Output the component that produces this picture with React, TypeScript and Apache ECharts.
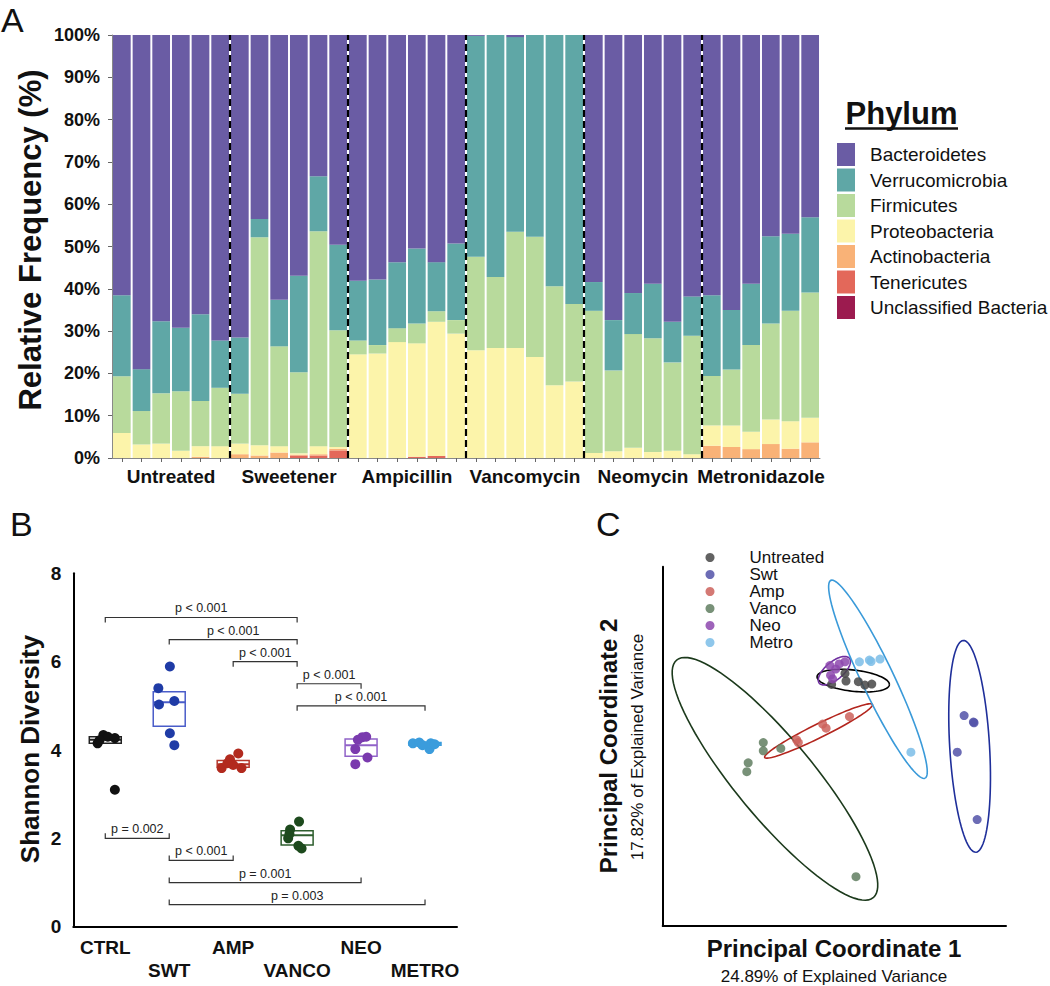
import React, { useEffect, useRef } from 'react';
import * as echarts from 'echarts';

const FONT = "'Liberation Sans', Arial, Helvetica, sans-serif";

// ---------------- Panel A: relative frequency ----------------
const groupsA = ['Untreated', 'Sweetener', 'Ampicillin', 'Vancomycin', 'Neomycin', 'Metronidazole'];
const samplesPerGroup = [6, 6, 6, 6, 6, 6];
const phyla = ['Bacteroidetes', 'Verrucomicrobia', 'Firmicutes', 'Proteobacteria', 'Actinobacteria', 'Tenericutes', 'Unclassified Bacteria'];
const phylaColors = ['#6A5CA4', '#5FA7A6', '#B8DA9C', '#FCF4AA', '#F9B277', '#E3685A', '#9C1B4F'];

const bacteroidetes = [61.5, 79.0, 67.7, 69.2, 66.0, 72.2, 71.5, 43.5, 62.6, 56.9, 33.4, 49.6, 58.1, 57.8, 53.7, 50.5, 53.7, 49.3, 0.2, 0, 0.5, 0, 0, 0, 58.4, 67.4, 61.0, 58.8, 67.8, 61.8, 61.5, 65.0, 58.8, 47.6, 47.0, 43.1];
const verrucomicrobia = [19.2, 9.9, 17.0, 15.0, 20.5, 11.2, 13.3, 4.3, 11.0, 22.8, 13.0, 20.2, 14.1, 15.5, 15.6, 17.7, 11.6, 18.1, 52.2, 57.2, 46.0, 47.7, 59.4, 63.6, 6.8, 11.9, 9.7, 12.9, 9.6, 9.3, 19.1, 14.1, 14.5, 20.6, 18.2, 17.8];
const firmicutes = [13.4, 7.9, 11.9, 14.1, 10.7, 13.8, 11.8, 49.2, 23.6, 19.2, 50.8, 27.6, 3.3, 2.0, 3.3, 4.7, 2.5, 3.2, 22.1, 16.8, 27.5, 28.4, 23.4, 18.3, 33.6, 19.1, 26.9, 26.9, 20.9, 28.0, 11.7, 13.2, 20.5, 22.7, 26.1, 29.6];
const proteobacteria = [5.9, 3.2, 3.4, 1.7, 2.5, 2.8, 2.5, 2.4, 1.5, 0.3, 1.9, 0.4, 24.5, 24.7, 27.4, 26.8, 31.7, 29.4, 25.5, 26.0, 26.0, 23.9, 17.2, 18.1, 1.2, 1.6, 2.4, 1.4, 1.7, 0.9, 4.8, 5.1, 4.1, 5.8, 6.5, 5.8];
const actinobacteria = [0, 0, 0, 0, 0.3, 0, 0.9, 0.6, 1.3, 0.2, 0.3, 0.4, 0, 0, 0, 0, 0, 0, 0, 0, 0, 0, 0, 0, 0, 0, 0, 0, 0, 0, 2.9, 2.6, 2.1, 3.3, 2.2, 3.7];
const tenericutes = [0, 0, 0, 0, 0, 0, 0, 0, 0, 0.6, 0.6, 1.8, 0, 0, 0, 0.3, 0.5, 0, 0, 0, 0, 0, 0, 0, 0, 0, 0, 0, 0, 0, 0, 0, 0, 0, 0, 0];
const unclassified = [0, 0, 0, 0, 0, 0, 0, 0, 0, 0, 0, 0, 0, 0, 0, 0, 0, 0, 0, 0, 0, 0, 0, 0, 0, 0, 0, 0, 0, 0, 0, 0, 0, 0, 0, 0];
const phylaValues = [bacteroidetes, verrucomicrobia, firmicutes, proteobacteria, actinobacteria, tenericutes, unclassified];
const percentTicks = [0, 10, 20, 30, 40, 50, 60, 70, 80, 90, 100];

// ---------------- Panel B: Shannon diversity ----------------
const groupsB = ['CTRL', 'SWT', 'AMP', 'VANCO', 'NEO', 'METRO'];
const colorsB = ['#111111', '#1F3BA6', '#B22A1E', '#1D4A1D', '#7A3AAE', '#3B9CDC'];
const boxColorsB = ['#222222', '#4A5DC9', '#B53A2E', '#2E5E2E', '#9062C8', '#3B9CDC'];
const shannonCTRL = [4.15, 4.34, 4.30, 4.27, 4.22, 3.10];
const shannonSWT = [5.89, 5.40, 5.03, 5.11, 4.38, 4.11];
const shannonAMP = [3.59, 3.79, 3.92, 3.66, 3.59, 3.70];
const shannonVANCO = [2.38, 2.20, 2.00, 2.10, 1.83, 1.77];
const shannonNEO = [4.29, 4.30, 4.02, 3.83, 3.68, 4.23];
const shannonMETRO = [4.15, 4.17, 4.02, 4.15, 4.11, 4.13];
const shannonValues = [shannonCTRL, shannonSWT, shannonAMP, shannonVANCO, shannonNEO, shannonMETRO];
const jitterB = [
  [-0.12, -0.03, 0.04, 0.15, -0.09, 0.15],
  [0.01, -0.17, -0.16, 0.08, 0.01, 0.08],
  [-0.18, -0.05, 0.08, 0.0, 0.13, -0.09],
  [0.03, -0.11, -0.14, -0.12, 0.02, 0.07],
  [0.02, 0.08, -0.09, 0.10, -0.09, -0.05],
  [-0.19, -0.09, 0.07, 0.09, -0.04, 0.15],
];
const boxQ1 = [4.15, 4.54, 3.61, 1.85, 3.86, 4.11];
const boxMedian = [4.23, 5.08, 3.68, 2.07, 4.11, 4.14];
const boxQ3 = [4.30, 5.32, 3.76, 2.17, 4.25, 4.17];
const bracketFrom = ['CTRL', 'SWT', 'AMP', 'VANCO', 'VANCO', 'CTRL', 'SWT', 'SWT', 'SWT'];
const bracketTo = ['VANCO', 'VANCO', 'VANCO', 'NEO', 'METRO', 'SWT', 'AMP', 'NEO', 'METRO'];
const bracketY = [7, 6.5, 6, 5.5, 5, 2, 1.5, 1, 0.5];
const bracketTick = [1, 1, 1, 1, 1, -1, -1, -1, -1];
const bracketLabels = ['p < 0.001', 'p < 0.001', 'p < 0.001', 'p < 0.001', 'p < 0.001', 'p = 0.002', 'p < 0.001', 'p = 0.001', 'p = 0.003'];

// ---------------- Panel C: PCoA ----------------
const groupsC = ['Untreated', 'Swt', 'Amp', 'Vanco', 'Neo', 'Metro'];
const pointColorsC = ['#474747', '#5252A8', '#CC625C', '#607E60', '#8D48AE', '#7BBDE8'];
const ellipseColorsC = ['#000000', '#1F2F9A', '#B3261E', '#1C3A1C', '#7030A0', '#3A9AD9'];
const pcoaUntreated = [[49.2, 70.6], [53.1, 73.8], [53.4, 71.6], [57.0, 71.4], [58.9, 70.4], [60.9, 70.7]];
const pcoaSwt = [[87.8, 61.5], [90.5, 59.6], [90.7, 59.4], [85.8, 50.8], [91.6, 31.1]];
const pcoaAmp = [[39.0, 54.4], [39.5, 53.6], [46.6, 59.0], [47.6, 57.8], [54.4, 61.2]];
const pcoaVanco = [[29.3, 53.6], [29.3, 51.2], [34.4, 51.9], [24.9, 47.7], [24.5, 45.1], [56.3, 14.4]];
const pcoaNeo = [[48.7, 76.1], [50.4, 75.1], [53.1, 77.2], [48.9, 73.3], [49.5, 72.2], [51.4, 76.6]];
const pcoaMetro = [[57.3, 77.2], [60.2, 77.7], [60.7, 77.3], [63.3, 78.0], [72.3, 50.8]];
const pcoaPoints = [pcoaUntreated, pcoaSwt, pcoaAmp, pcoaVanco, pcoaNeo, pcoaMetro];
const ellipseCx = [55.5, 89.4, 45.4, 32.7, 50.0, 62.7];
const ellipseCy = [71.7, 52.5, 57.0, 43.0, 74.6, 72.1];
const ellipseA = [10.6, 31.0, 17.5, 45.0, 5.7, 32.0];
const ellipseB = [3.1, 5.8, 2.0, 11.4, 2.6, 4.7];
const ellipseAngle = [-6.6, -86.6, 26.3, -50.5, 39.8, -64.6];

// ---------------- build option ----------------
const sampleIds = groupsA.flatMap((g, gi) => Array.from({ length: samplesPerGroup[gi] }, (_, k) => `${g} ${k + 1}`));
const boundaries: number[] = [];
samplesPerGroup.slice(0, -1).reduce((acc, n) => { boundaries.push(acc + n); return acc + n; }, 0);

const stackOrder = [6, 5, 4, 3, 2, 1, 0]; // bottom to top

function buildOption(): any {
  const barSeries = stackOrder.map((pi) => ({
    type: 'bar',
    name: phyla[pi],
    stack: 'phylum',
    xAxisIndex: 0,
    yAxisIndex: 0,
    barCategoryGap: '10%',
    itemStyle: { color: phylaColors[pi] },
    data: phylaValues[pi],
  }));

  const dashSeries = {
    type: 'custom',
    xAxisIndex: 2,
    yAxisIndex: 0,
    silent: true,
    z: 5,
    data: boundaries.map((b) => [b, 0]),
    renderItem: (params: any, api: any) => {
      const b = boundaries[params.dataIndex];
      const p0 = api.coord([b, 0]);
      const p1 = api.coord([b, 100]);
      return {
        type: 'line',
        shape: { x1: p0[0], y1: p0[1], x2: p1[0], y2: p1[1] },
        style: { stroke: '#000', lineWidth: 2.2, lineDash: [7, 4] },
      };
    },
  };

  const boxSeries = {
    type: 'custom',
    xAxisIndex: 3,
    yAxisIndex: 1,
    silent: true,
    z: 2,
    data: groupsB.map((_, i) => [i, boxQ1[i], boxMedian[i], boxQ3[i]]),
    encode: { x: 0, y: [1, 2, 3] },
    renderItem: (params: any, api: any) => {
      const i = params.dataIndex;
      const tl = api.coord([i - 0.25, boxQ3[i]]);
      const br = api.coord([i + 0.25, boxQ1[i]]);
      const m = api.coord([i - 0.25, boxMedian[i]]);
      return {
        type: 'group',
        children: [
          { type: 'rect', shape: { x: tl[0], y: tl[1], width: br[0] - tl[0], height: br[1] - tl[1] }, style: { fill: 'rgba(255,255,255,0.35)', stroke: boxColorsB[i], lineWidth: 1.5 } },
          { type: 'line', shape: { x1: tl[0], y1: m[1], x2: br[0], y2: m[1] }, style: { stroke: boxColorsB[i], lineWidth: 2 } },
        ],
      };
    },
  };

  const pointSeriesB = groupsB.map((g, i) => ({
    type: 'scatter',
    name: g + ' diversity',
    xAxisIndex: 3,
    yAxisIndex: 1,
    symbolSize: 10,
    z: 3,
    itemStyle: { color: colorsB[i], opacity: 1 },
    data: shannonValues[i].map((v, k) => [i + jitterB[i][k], v]),
  }));

  const bracketSeries = {
    type: 'custom',
    xAxisIndex: 3,
    yAxisIndex: 1,
    silent: true,
    z: 4,
    data: bracketY.map((y, i) => [groupsB.indexOf(bracketFrom[i]), groupsB.indexOf(bracketTo[i]), y]),
    encode: { x: [0, 1], y: 2 },
    renderItem: (params: any, api: any) => {
      const i = params.dataIndex;
      const a = api.coord([groupsB.indexOf(bracketFrom[i]), bracketY[i]]);
      const b = api.coord([groupsB.indexOf(bracketTo[i]), bracketY[i]]);
      const t = bracketTick[i] * 5;
      return {
        type: 'group',
        children: [
          { type: 'polyline', shape: { points: [[a[0], a[1] + t], [a[0], a[1]], [b[0], b[1]], [b[0], b[1] + t]] }, style: { stroke: '#333', lineWidth: 1.2, fill: 'none' } },
          { type: 'text', x: (a[0] + b[0]) / 2, y: a[1] - 2.5, style: { text: bracketLabels[i], fontSize: 12.5, fontFamily: FONT, fill: '#222', align: 'center', verticalAlign: 'bottom' } },
        ],
      };
    },
  };

  const ellipseSeries = {
    type: 'custom',
    xAxisIndex: 5,
    yAxisIndex: 2,
    silent: true,
    z: 2,
    data: groupsC.map((_, i) => [ellipseCx[i], ellipseCy[i]]),
    renderItem: (params: any, api: any) => {
      const i = params.dataIndex;
      const th = (ellipseAngle[i] * Math.PI) / 180;
      const pts: number[][] = [];
      for (let k = 0; k <= 96; k++) {
        const t = (k / 96) * Math.PI * 2;
        const x = ellipseCx[i] + ellipseA[i] * Math.cos(t) * Math.cos(th) - ellipseB[i] * Math.sin(t) * Math.sin(th);
        const y = ellipseCy[i] + ellipseA[i] * Math.cos(t) * Math.sin(th) + ellipseB[i] * Math.sin(t) * Math.cos(th);
        pts.push(api.coord([x, y]));
      }
      return { type: 'polyline', shape: { points: pts }, style: { stroke: ellipseColorsC[i], lineWidth: 1.6, fill: 'none' } };
    },
  };

  const pointSeriesC = groupsC.map((g, i) => ({
    type: 'scatter',
    name: g,
    xAxisIndex: 5,
    yAxisIndex: 2,
    symbolSize: 9,
    z: 3,
    itemStyle: { color: pointColorsC[i], opacity: 0.85 },
    data: pcoaPoints[i],
  }));

  const noSplit = { show: false };

  return {
    animation: false,
    backgroundColor: '#ffffff',
    textStyle: { fontFamily: FONT },
    grid: [
      { left: 112, top: 35, width: 708, height: 423 },
      { left: 73.3, top: 573.3, width: 383.7, height: 353.4 },
      { left: 662.7, top: 566.7, width: 343.3, height: 359.3 },
    ],
    xAxis: [
      {
        gridIndex: 0, type: 'category', data: sampleIds, position: 'bottom',
        axisLabel: { show: false },
        axisTick: { show: true, alignWithLabel: true, interval: 0, length: 4, lineStyle: { color: '#666' } },
        axisLine: { show: true, lineStyle: { color: '#888', width: 1 } },
      },
      {
        gridIndex: 0, type: 'category', data: groupsA, position: 'bottom',
        axisLine: { show: false }, axisTick: { show: false },
        axisLabel: { interval: 0, fontSize: 19, fontWeight: 'bold', color: '#111', margin: 9, fontFamily: FONT },
      },
      { gridIndex: 0, type: 'value', min: 0, max: 36, show: false },
      { gridIndex: 1, type: 'value', min: -0.5, max: 5.5, show: false },
      {
        gridIndex: 1, type: 'category', data: groupsB, position: 'bottom',
        axisLine: { show: true, onZero: false, lineStyle: { color: '#000', width: 2 } },
        axisTick: { show: false },
        axisLabel: {
          interval: 0, fontSize: 19, fontWeight: 'bold', color: '#111', margin: 9, lineHeight: 23, fontFamily: FONT,
          formatter: (v: string, i: number) => (i % 2 ? '\n' + v : v),
        },
      },
      {
        gridIndex: 2, type: 'value', min: 0, max: 100,
        axisLine: { show: true, onZero: false, lineStyle: { color: '#000', width: 2 } },
        axisTick: { show: false }, axisLabel: { show: false }, splitLine: noSplit,
      },
    ],
    yAxis: [
      {
        gridIndex: 0, type: 'value', min: percentTicks[0], max: percentTicks[percentTicks.length - 1], interval: 10,
        axisLine: { show: true, onZero: false, lineStyle: { color: '#888', width: 1 } },
        axisTick: { show: true, length: 4, lineStyle: { color: '#666' } },
        axisLabel: { formatter: '{value}%', fontSize: 18, fontWeight: 'bold', color: '#111', margin: 12, fontFamily: FONT },
        splitLine: noSplit,
      },
      {
        gridIndex: 1, type: 'value', min: 0, max: 8, interval: 2,
        axisLine: { show: true, onZero: false, lineStyle: { color: '#000', width: 2 } },
        axisTick: { show: false },
        axisLabel: { fontSize: 19, fontWeight: 'bold', color: '#111', margin: 12, fontFamily: FONT },
        splitLine: noSplit,
      },
      {
        gridIndex: 2, type: 'value', min: 0, max: 105,
        axisLine: { show: true, onZero: false, lineStyle: { color: '#000', width: 2 } },
        axisTick: { show: false }, axisLabel: { show: false }, splitLine: noSplit,
      },
    ],
    legend: [
      {
        data: phyla, orient: 'vertical', left: 832, top: 138, itemWidth: 18, itemHeight: 23, itemGap: 2.5,
        icon: 'rect', selectedMode: false,
        textStyle: { fontSize: 19, color: '#111', fontFamily: FONT, padding: [0, 0, 0, 10] },
      },
      {
        data: groupsC, orient: 'vertical', left: 700.5, top: 544, itemWidth: 9, itemHeight: 9, itemGap: 0,
        icon: 'circle', selectedMode: false,
        textStyle: { fontSize: 17, color: '#111', fontFamily: FONT, lineHeight: 16.3, padding: [0, 0, 0, 30] },
      },
    ],
    graphic: [
      { type: 'text', x: 1, y: 20, style: { text: 'A', fontSize: 34, fontFamily: FONT, fill: '#111', align: 'left', verticalAlign: 'middle' } },
      { type: 'text', x: 10, y: 524, style: { text: 'B', fontSize: 34, fontFamily: FONT, fill: '#111', align: 'left', verticalAlign: 'middle' } },
      { type: 'text', x: 596, y: 524, style: { text: 'C', fontSize: 34, fontFamily: FONT, fill: '#111', align: 'left', verticalAlign: 'middle' } },
      { type: 'text', x: 30, y: 240, rotation: Math.PI / 2, style: { text: 'Relative Frequency (%)', fontSize: 31, fontWeight: 'bold', fontFamily: FONT, fill: '#111', align: 'center', verticalAlign: 'middle' } },
      { type: 'text', x: 901.5, y: 113, style: { text: 'Phylum', fontSize: 31, fontWeight: 'bold', fontFamily: FONT, fill: '#111', align: 'center', verticalAlign: 'middle' } },
      { type: 'line', shape: { x1: 845, y1: 128.5, x2: 958, y2: 128.5 }, style: { stroke: '#111', lineWidth: 2.5 } },
      { type: 'text', x: 30, y: 749, rotation: Math.PI / 2, style: { text: 'Shannon Diversity', fontSize: 26, fontWeight: 'bold', fontFamily: FONT, fill: '#111', align: 'center', verticalAlign: 'middle' } },
      { type: 'text', x: 834, y: 948, style: { text: 'Principal Coordinate 1', fontSize: 24, fontWeight: 'bold', fontFamily: FONT, fill: '#111', align: 'center', verticalAlign: 'middle' } },
      { type: 'text', x: 834, y: 976, style: { text: '24.89% of Explained Variance', fontSize: 17, fontFamily: FONT, fill: '#111', align: 'center', verticalAlign: 'middle' } },
      { type: 'text', x: 608, y: 746, rotation: Math.PI / 2, style: { text: 'Principal Coordinate 2', fontSize: 24, fontWeight: 'bold', fontFamily: FONT, fill: '#111', align: 'center', verticalAlign: 'middle' } },
      { type: 'text', x: 637, y: 747, rotation: Math.PI / 2, style: { text: '17.82% of Explained Variance', fontSize: 17, fontFamily: FONT, fill: '#111', align: 'center', verticalAlign: 'middle' } },
    ],
    series: [
      ...barSeries,
      dashSeries,
      boxSeries,
      ...pointSeriesB,
      bracketSeries,
      ellipseSeries,
      ...pointSeriesC,
    ],
  };
}

export default function App() {
  const ref = useRef<HTMLDivElement>(null);
  useEffect(() => {
    if (!ref.current) return;
    const chart = echarts.init(ref.current, null, { renderer: 'svg' });
    chart.setOption(buildOption());
    return () => chart.dispose();
  }, []);
  return (
    <div
      ref={ref}
      style={{ position: 'absolute', left: 0, top: 0, width: 1050, height: 986, background: '#fff' }}
    />
  );
}
